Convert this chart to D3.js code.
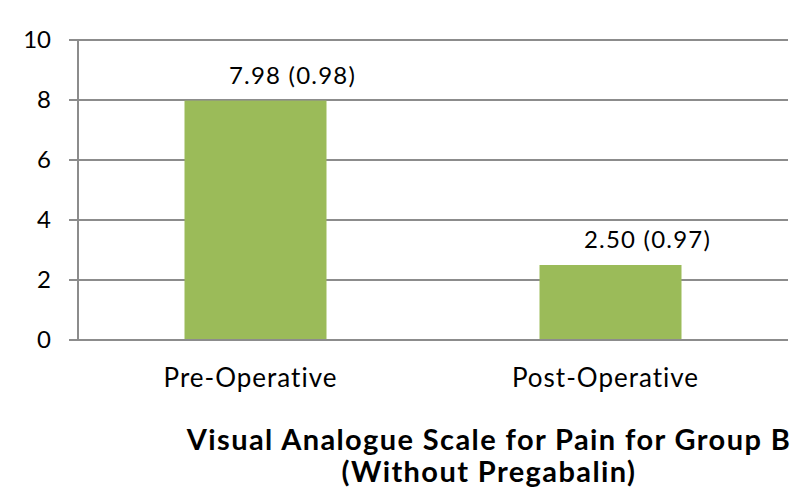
<!DOCTYPE html>
<html>
<head>
<meta charset="utf-8">
<script src="https://cdn.jsdelivr.net/npm/d3@7"></script>
<style>
  body { margin: 0; background: #fff; }
  text { font-family: "Gill Sans", "Gill Sans MT", Lato, sans-serif; fill: #000; }
</style>
</head>
<body>
<div id="chart"></div>
<script>
"use strict";

var categories = ["Pre-Operative", "Post-Operative"];
var means = [7.98, 2.50];
var sds = [0.98, 0.97];
var yTicks = [0, 2, 4, 6, 8, 10];
var titleLines = ["Visual Analogue Scale for Pain for Group B", "(Without Pregabalin)"];

function drawChart(){
    var width = 800, height = 496;
    var plotLeft = 78, plotRight = 788, plotTop = 40, plotBottom = 340;

    var svg = d3.select("#chart").append("svg")
        .attr("width", width)
        .attr("height", height);

    var x = d3.scaleBand().domain(categories).range([plotLeft, plotRight])
        .paddingInner(0.6).paddingOuter(0.3);
    var y = d3.scaleLinear().domain([0, 10]).range([plotBottom, plotTop]);

    // gridlines
    svg.selectAll("line.grid").data(yTicks).enter()
        .append("line")
            .attr("class", "grid")
            .attr("x1", plotLeft - 9)
            .attr("x2", plotRight)
            .attr("y1", function(d){return y(d);})
            .attr("y2", function(d){return y(d);})
            .attr("stroke", "#8c8c8c")
            .attr("stroke-width", 2);

    // y axis line
    svg.append("line")
        .attr("x1", plotLeft).attr("x2", plotLeft)
        .attr("y1", plotTop).attr("y2", plotBottom)
        .attr("stroke", "#8c8c8c")
        .attr("stroke-width", 2);

    // tick labels
    svg.selectAll("text.ytick").data(yTicks).enter()
        .append("text")
            .attr("class", "ytick")
            .attr("x", 51)
            .attr("y", function(d){return y(d) + 8;})
            .attr("text-anchor", "end")
            .attr("font-size", 24)
            .text(function(d){return d;});

    // bars
    svg.selectAll("rect.bar").data(means).enter()
        .append("rect")
            .attr("class", "bar")
            .attr("x", function(d, i){return x(categories[i]);})
            .attr("y", function(d){return y(d);})
            .attr("width", x.bandwidth())
            .attr("height", function(d){return y(0) - y(d);})
            .attr("fill", "#9bbb59");

    // base axis over bars
    svg.append("line")
        .attr("x1", plotLeft - 9).attr("x2", plotRight)
        .attr("y1", y(0)).attr("y2", y(0))
        .attr("stroke", "#8c8c8c")
        .attr("stroke-width", 2);

    // value labels
    svg.selectAll("text.val").data(means).enter()
        .append("text")
            .attr("class", "val")
            .attr("x", function(d, i){return x(categories[i]) + x.bandwidth() / 2 + 37;})
            .attr("y", function(d){return y(d) - 17;})
            .attr("text-anchor", "middle")
            .attr("font-size", 24)
            .attr("letter-spacing", 1.2)
            .text(function(d, i){return d.toFixed(2) + " (" + sds[i].toFixed(2) + ")";});

    // category labels
    svg.selectAll("text.cat").data(categories).enter()
        .append("text")
            .attr("class", "cat")
            .attr("x", function(d){return x(d) + x.bandwidth() / 2 - 5;})
            .attr("y", 387)
            .attr("text-anchor", "middle")
            .attr("font-size", 26)
            .attr("letter-spacing", 1)
            .text(function(d){return d;});

    // title
    svg.selectAll("text.title").data(titleLines).enter()
        .append("text")
            .attr("class", "title")
            .attr("x", 489)
            .attr("y", function(d, i){return 450 + i * 32;})
            .attr("text-anchor", "middle")
            .attr("font-size", 29)
            .attr("font-weight", "bold")
            .attr("letter-spacing", 1.4)
            .text(function(d){return d;});
}

drawChart();
</script>
</body>
</html>
